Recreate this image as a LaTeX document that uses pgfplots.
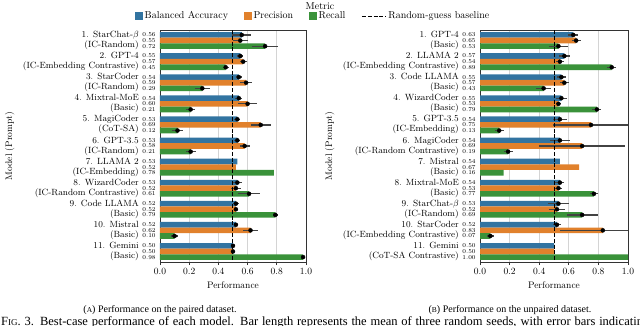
\documentclass[border=0pt]{standalone}
\usepackage{fontspec}
\usepackage{pgfplots}
\pgfplotsset{compat=1.18}
\usepackage{pgfplotstable}
\newfontfamily\capfont{Liberation Serif}
\definecolor{cBA}{RGB}{50,116,161}
\definecolor{cP}{RGB}{225,129,44}
\definecolor{cR}{RGB}{58,146,58}
\definecolor{cErr}{RGB}{66,66,66}

\pgfplotstableread{
idx ba baerr p perr r rerr
0 0.56 0.065 0.55 0.05 0.72 0.09
1 0.55 0.02 0.57 0.025 0.45 0.02
2 0.54 0.02 0.59 0.04 0.29 0.05
3 0.54 0.025 0.60 0.065 0.21 0.03
4 0.53 0.02 0.69 0.07 0.12 0.035
5 0.53 0.02 0.58 0.035 0.21 0.035
6 0.53 0 0.52 0 0.78 0
7 0.53 0.035 0.52 0.035 0.61 0.075
8 0.52 0.02 0.52 0.015 0.79 0.015
9 0.52 0.015 0.62 0.05 0.10 0.025
10 0.50 0.005 0.50 0.005 0.98 0.005
}\paired

\pgfplotstableread{
idx ba baerr p perr r rerr
0 0.63 0.035 0.65 0.03 0.53 0.065
1 0.57 0.035 0.54 0.025 0.89 0.03
2 0.55 0.03 0.57 0.03 0.43 0.05
3 0.55 0.035 0.53 0.015 0.79 0.03
4 0.54 0.045 0.75 0.255 0.13 0.03
5 0.54 0.065 0.69 0.29 0.19 0.03
6 0.54 0 0.67 0 0.16 0
7 0.54 0.03 0.53 0.025 0.77 0.03
8 0.53 0.068 0.52 0.055 0.69 0.105
9 0.52 0.025 0.83 0.29 0.07 0.025
10 0.50 0 0.50 0 1.00 0
}\unpaired

\pgfplotsset{
  barchart/.style={
    scale only axis, height=232pt, anchor=south west,
    y dir=reverse, ymin=-0.5, ymax=10.5, xmin=0, xmax=1,
    xtick={0,0.2,0.4,0.6,0.8,1}, xticklabels={0.0,0.2,0.4,0.6,0.8,1.0},
    xmajorgrids, grid style={color=black!17, line width=0.8pt},
    tick align=outside, major tick length=3pt, xtick pos=bottom, ytick pos=left,
    ytick style={draw=none}, xtick style={color=black!80, line width=0.8pt},
    axis line style={color=black!80, line width=0.9pt},
    ticklabel style={font=\fontsize{9.5}{11}\selectfont},
    xlabel={Performance}, ylabel={Model (Prompt)},
    label style={font=\fontsize{9.5}{11}\selectfont},
    ytick={-0.26667,0,0.26667,0.73333,1,1.26667,1.73333,2,2.26667,2.73333,3,3.26667,3.73333,4,4.26667,4.73333,5,5.26667,5.73333,6,6.26667,6.73333,7,7.26667,7.73333,8,8.26667,8.73333,9,9.26667,9.73333,10,10.26667},
    yticklabel style={font=\fontsize{6}{6}\selectfont, inner sep=1.2pt},
    extra y ticks={0,1,2,3,4,5,6,7,8,9,10},
    extra y tick style={yticklabel style={font=\fontsize{9}{10}\selectfont, align=right, inner sep=2pt, xshift=-16pt}},
  },
  bars/.style={xbar, bar width=0.26667, draw=none, forget plot},
  errs/.style={only marks, mark=none, forget plot, unbounded coords=discard,
    x filter/.expression={\thisrow{#1}>0.0001 ? x : nan},
    error bars/x dir=both, error bars/x explicit, error bars/error mark=none,
    error bars/error bar style={draw=cErr, solid, line width=1.3pt, line cap=butt}},
  baseline/.style={black, line width=1pt, dash pattern=on 4pt off 1.8pt, forget plot},
}

\begin{document}
\begin{tikzpicture}
\path[use as bounding box] (0,0) rectangle (640pt,325pt);

\begin{axis}[barchart, at={(160pt,63pt)}, width=146pt,
  yticklabels={0.56,0.55,0.72,0.55,0.57,0.45,0.54,0.59,0.29,0.54,0.60,0.21,0.53,0.69,0.12,0.53,0.58,0.21,0.53,0.52,0.78,0.53,0.52,0.61,0.52,0.52,0.79,0.52,0.62,0.10,0.50,0.50,0.98},
  extra y tick labels={{1. StarChat-$\beta$\\(IC-Random)},{2. GPT-4\\(IC-Embedding Contrastive)},{3. StarCoder\\(IC-Random)},{4. Mixtral-MoE\\(Basic)},{5. MagiCoder\\(CoT-SA)},{6. GPT-3.5\\(IC-Random)},{7. LLAMA 2\\(IC-Embedding)},{8. WizardCoder\\(IC-Random Contrastive)},{9. Code LLAMA\\(Basic)},{10. Mistral\\(Basic)},{11. Gemini\\(Basic)}},
  legend style={at={(1.05,1.0603)}, anchor=center, draw=none, fill=none,
    font=\fontsize{10}{12}\selectfont, legend columns=4,
    /tikz/every even column/.append style={column sep=14pt}},
]
\addlegendimage{legend image code/.code={\fill[cBA] (0pt,-3.5pt) rectangle (7pt,3.5pt);}}
\addlegendentry{Balanced Accuracy}
\addlegendimage{legend image code/.code={\fill[cP] (0pt,-3.5pt) rectangle (7pt,3.5pt);}}
\addlegendentry{Precision}
\addlegendimage{legend image code/.code={\fill[cR] (0pt,-3.5pt) rectangle (7pt,3.5pt);}}
\addlegendentry{Recall}
\addlegendimage{legend image code/.code={\draw[black, line width=1pt, dash pattern=on 4pt off 1.8pt] (0pt,0pt) -- (24pt,0pt);}}
\addlegendentry{Random-guess baseline}
\addplot[bars, fill=cBA, bar shift=-0.26667] table[x=ba, y=idx] {\paired};
\addplot[bars, fill=cP, bar shift=0] table[x=p, y=idx] {\paired};
\addplot[bars, fill=cR, bar shift=0.26667] table[x=r, y=idx] {\paired};
\addplot[errs=baerr] table[x=ba, y expr=\thisrow{idx}-0.26667, x error=baerr] {\paired};
\addplot[errs=perr] table[x=p, y=idx, x error=perr] {\paired};
\addplot[errs=rerr] table[x=r, y expr=\thisrow{idx}+0.26667, x error=rerr] {\paired};
\addplot[baseline] coordinates {(0.5,-0.5) (0.5,10.5)};
\end{axis}

\begin{axis}[barchart, at={(480pt,63pt)}, width=148pt,
  yticklabels={0.63,0.65,0.53,0.57,0.54,0.89,0.55,0.57,0.43,0.55,0.53,0.79,0.54,0.75,0.13,0.54,0.69,0.19,0.54,0.67,0.16,0.54,0.53,0.77,0.53,0.52,0.69,0.52,0.83,0.07,0.50,0.50,1.00},
  extra y tick labels={{1. GPT-4\\(Basic)},{2. LLAMA 2\\(IC-Embedding Contrastive)},{3. Code LLAMA\\(Basic)},{4. WizardCoder\\(Basic)},{5. GPT-3.5\\(IC-Embedding)},{6. MagiCoder\\(IC-Random Contrastive)},{7. Mistral\\(Basic)},{8. Mixtral-MoE\\(Basic)},{9. StarChat-$\beta$\\(IC-Random)},{10. StarCoder\\(IC-Embedding Contrastive)},{11. Gemini\\(CoT-SA Contrastive)}},
]
\addplot[bars, fill=cBA, bar shift=-0.26667] table[x=ba, y=idx] {\unpaired};
\addplot[bars, fill=cP, bar shift=0] table[x=p, y=idx] {\unpaired};
\addplot[bars, fill=cR, bar shift=0.26667] table[x=r, y=idx] {\unpaired};
\addplot[errs=baerr] table[x=ba, y expr=\thisrow{idx}-0.26667, x error=baerr] {\unpaired};
\addplot[errs=perr] table[x=p, y=idx, x error=perr] {\unpaired};
\addplot[errs=rerr] table[x=r, y expr=\thisrow{idx}+0.26667, x error=rerr] {\unpaired};
\addplot[baseline] coordinates {(0.5,-0.5) (0.5,10.5)};
\end{axis}

\node[font=\fontsize{10}{12}\selectfont] at (320pt,319pt) {Metric};
\node[font=\capfont\fontsize{10}{12}\selectfont] at (160pt,15pt) {({\fontsize{7.5}{9}\selectfont A}) Performance on the paired dataset.};
\node[font=\capfont\fontsize{10}{12}\selectfont] at (510pt,15pt) {({\fontsize{7.5}{9}\selectfont B}) Performance on the unpaired dataset.};
\node[anchor=base west, inner sep=0pt, font=\capfont\fontsize{12.5}{14}\selectfont] at (1pt,-0.5pt) {\makebox[648pt][s]{F{\fontsize{9}{10}\selectfont IG}. 3. Best-case performance of each model. Bar length represents the mean of three random seeds, with error bars indicating}};
\end{tikzpicture}
\end{document}
